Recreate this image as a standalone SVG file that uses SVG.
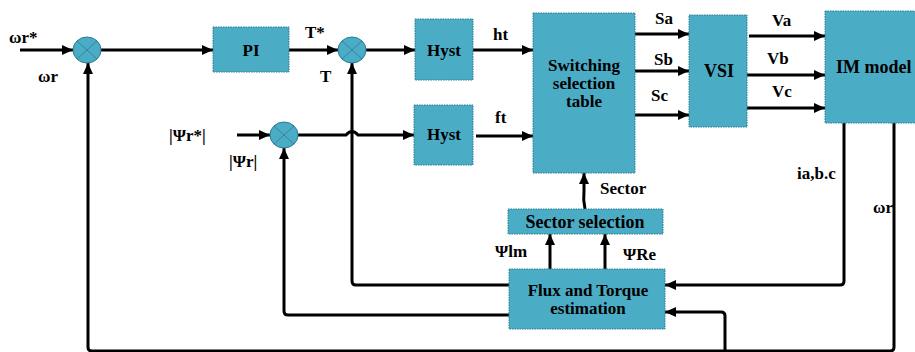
<svg xmlns="http://www.w3.org/2000/svg" width="915" height="352" viewBox="0 0 915 352" font-family="'Liberation Serif', 'Times New Roman', serif">
<defs>
<marker id="ah" markerUnits="userSpaceOnUse" markerWidth="12" markerHeight="10" refX="11" refY="5" orient="auto">
<path d="M0,0 L11,5 L0,10 z" fill="#000"/>
</marker>
<style>
.box{fill:#4bacc6;stroke:#2b7c93;stroke-width:1;stroke-dasharray:1.5 1}
.sum{fill:#4bacc6;stroke:#2b7c93;stroke-width:1}
.x{stroke:#2b7c93;stroke-width:0.8}
.w{fill:none;stroke:#000;stroke-width:3;stroke-linejoin:round}
.a{marker-end:url(#ah)}
.t{font-family:'Liberation Serif','Times New Roman',serif;font-weight:bold;font-size:17px;fill:#000}
.bt{text-anchor:middle}
</style>
</defs>
<rect width="915" height="352" fill="#fff"/>

<g id="connectors">
<path class="w a" d="M20,50 H73"/>
<path class="w a" d="M101,50 H213"/>
<path class="w a" d="M289,50 H338"/>
<path class="w a" d="M366,50 H415"/>
<path class="w a" d="M473,50 H533"/>
<path class="w a" d="M237,135 H270"/>
<path class="w a" d="M298,135 H346 Q352,128 358,135 H414"/>
<path class="w a" d="M476,136 H533"/>
<path class="w a" d="M635,34 H689"/>
<path class="w a" d="M635,71 H689"/>
<path class="w a" d="M635,115 H689"/>
<path class="w a" d="M749,36 H825"/>
<path class="w a" d="M747,75 H825"/>
<path class="w a" d="M747,108 H825"/>
<path class="w a" d="M844,123 V281 Q844,285 840,285 H665"/>
<path class="w a" d="M894,123 V347 Q894,351 890,351 H92 Q88,351 88,347 V63"/>
<path class="w a" d="M725,351 V316 Q725,312 721,312 H665"/>
<path class="w a" d="M509,285 H356 Q352,285 352,281 V63"/>
<path class="w a" d="M509,315 H288 Q284,315 284,311 V148"/>
<path class="w a" d="M550,269 V234"/>
<path class="w a" d="M605,269 V234"/>
<path class="w a" d="M585,209 Q583,200 584,190 V173"/>
</g>

<g id="sum1"><ellipse class="sum" cx="87" cy="50" rx="14" ry="13"/><path class="x" d="M77,41 L97,59 M97,41 L77,59"/></g>
<g id="sum2"><ellipse class="sum" cx="352" cy="50" rx="14" ry="13"/><path class="x" d="M342,41 L362,59 M362,41 L342,59"/></g>
<g id="sum3"><ellipse class="sum" cx="284" cy="135" rx="14" ry="13"/><path class="x" d="M274,126 L294,144 M294,126 L274,144"/></g>

<g id="pi"><rect class="box" x="213" y="27" width="76" height="45"/><text class="t bt" x="251" y="56">PI</text></g>
<g id="hyst1"><rect class="box" x="415" y="19" width="58" height="61"/><text class="t bt" x="444" y="56">Hyst</text></g>
<g id="hyst2"><rect class="box" x="414" y="105" width="59" height="60"/><text class="t bt" x="444" y="140">Hyst</text></g>
<g id="switching"><rect class="box" x="533" y="13" width="102" height="160"/><text class="t bt" x="584" y="71">Switching</text><text class="t bt" x="584" y="89">selection</text><text class="t bt" x="584" y="107">table</text></g>
<g id="vsi"><rect class="box" x="689" y="15" width="58" height="112"/><text class="t bt" x="719" y="77" style="font-size:18px">VSI</text></g>
<g id="im"><rect class="box" x="825" y="11" width="95" height="112"/><text class="t" x="836" y="73" style="font-size:18px">IM model</text></g>
<g id="sector"><rect class="box" x="508" y="209" width="155" height="25"/><text class="t bt" x="585" y="228" style="font-size:18px">Sector selection</text></g>
<g id="flux"><rect class="box" x="509" y="269" width="156" height="60"/><text class="t bt" x="588" y="296">Flux and Torque</text><text class="t bt" x="588" y="314">estimation</text></g>

<g id="labels">
<text class="t" x="9" y="43">ωr*</text>
<text class="t" x="38" y="82">ωr</text>
<text class="t" x="305" y="38">T*</text>
<text class="t" x="320" y="82">T</text>
<text class="t" x="169" y="141">|Ψr*|</text>
<text class="t" x="229" y="167">|Ψr|</text>
<text class="t" x="493" y="40">ht</text>
<text class="t" x="495" y="123">ft</text>
<text class="t" x="655" y="24">Sa</text>
<text class="t" x="654" y="65">Sb</text>
<text class="t" x="651" y="101">Sc</text>
<text class="t" x="772" y="26">Va</text>
<text class="t" x="767" y="64">Vb</text>
<text class="t" x="772" y="97">Vc</text>
<text class="t" x="797" y="179">ia,b.c</text>
<text class="t" x="600" y="194">Sector</text>
<text class="t" x="873" y="213">ωr</text>
<text class="t" x="495" y="257">Ψlm</text>
<text class="t" x="623" y="260">ΨRe</text>
</g>
</svg>
